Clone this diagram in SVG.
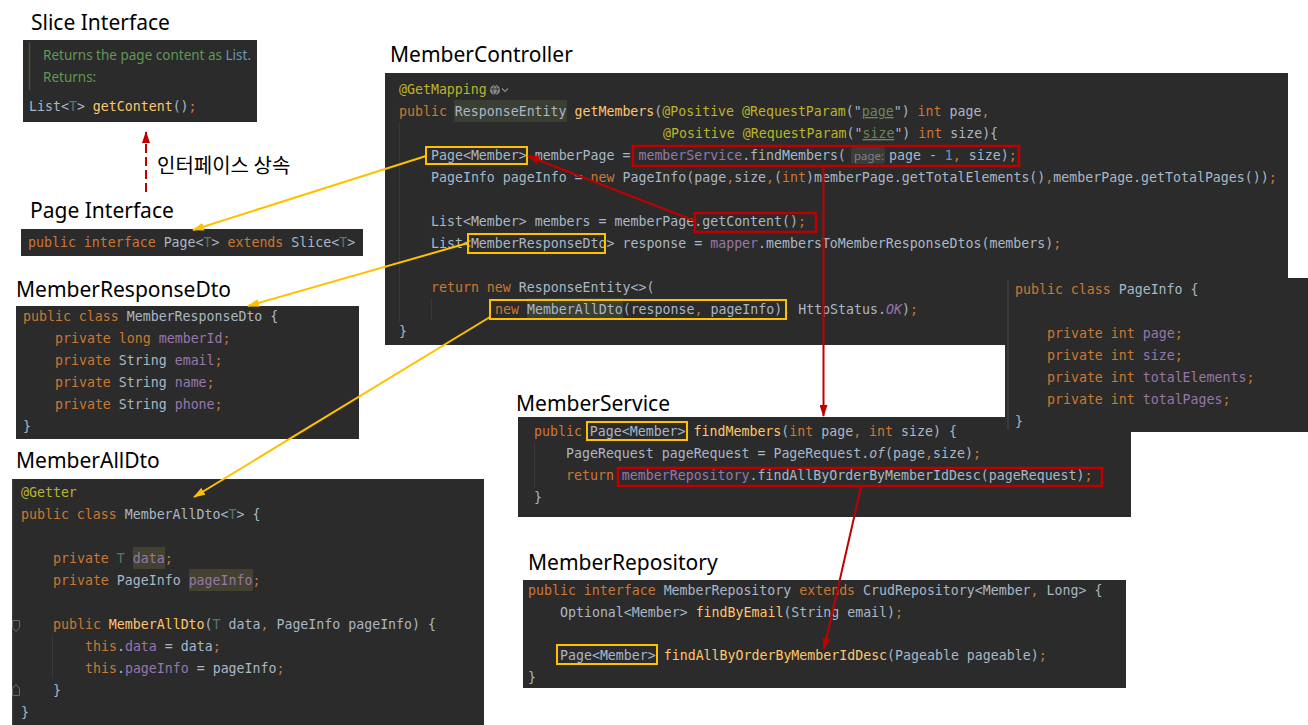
<svg xmlns="http://www.w3.org/2000/svg" width="1308" height="725" viewBox="0 0 1308 725" xml:space="preserve">
<style>
.title{font-family:"Noto Sans","Open Sans","Liberation Sans",sans-serif;font-size:21px;fill:#000}
.kr{font-family:"Noto Sans CJK KR","Noto Sans",sans-serif;font-size:20px;fill:#000}
.panel{fill:#2b2b2b}
.code{font-family:"DejaVu Sans Mono","Liberation Mono",monospace;font-size:13.25px;fill:#a9b7c6}
.doc{font-family:"Noto Sans","Open Sans",sans-serif;font-size:13.5px;fill:#629755}
.hint{font-family:"Noto Sans","Open Sans",sans-serif;font-size:11.5px;fill:#808080}
.k{fill:#cc7832}
.a{fill:#bbb529}
.m{fill:#ffc66d}
.f{fill:#9876aa}
.s{fill:#6a8759;text-decoration:underline}
.n{fill:#6897bb}
.t{fill:#507874}
.i{font-style:italic}
.hl{fill:#3b3e33}
.hl2{fill:#43412f}
.guide{stroke:#393939;stroke-width:1}
.ybox{fill:none;stroke:#ffc000;stroke-width:2}
.rbox{fill:none;stroke:#c00000;stroke-width:2.5}
.yline{stroke:#ffc000;stroke-width:2;fill:none}
.rline{stroke:#c00000;stroke-width:2;fill:none}
</style>
<defs>
<marker id="ahy" viewBox="0 0 12 8" refX="11" refY="4" markerWidth="12" markerHeight="8" orient="auto" markerUnits="userSpaceOnUse"><path d="M0,0 L12,4 L0,8 z" fill="#ffc000"/></marker>
<marker id="ahr" viewBox="0 0 12 8" refX="11" refY="4" markerWidth="12" markerHeight="8" orient="auto" markerUnits="userSpaceOnUse"><path d="M0,0 L12,4 L0,8 z" fill="#c00000"/></marker>
</defs>
<rect width="1308" height="725" fill="#ffffff"/>

<g id="slice-interface">
<text class="title" x="31" y="30">Slice Interface</text>
<rect class="panel" x="23" y="40" width="234" height="82"/>
<line x1="29.5" y1="42" x2="29.5" y2="90" stroke="#44513f" stroke-width="1.5"/>
<text class="doc" x="43" y="60">Returns the page content as <tspan fill="#6897bb">List.</tspan></text>
<text class="doc" x="43" y="82">Returns:</text>
<text class="code" x="29" y="111">List&lt;<tspan class="t">T</tspan>&gt; <tspan class="m">getContent</tspan>()<tspan class="k">;</tspan></text>
</g>

<g id="page-interface">
<text class="title" x="30" y="218">Page Interface</text>
<rect class="panel" x="21" y="229" width="342" height="27"/>
<text class="code" x="28" y="246.5"><tspan class="k">public interface </tspan>Page&lt;<tspan class="t">T</tspan>&gt; <tspan class="k">extends </tspan>Slice&lt;<tspan class="t">T</tspan>&gt;</text>
</g>

<g id="member-response-dto">
<text class="title" x="16" y="297">MemberResponseDto</text>
<rect class="panel" x="16" y="306" width="343" height="133"/>
<text class="code" x="23" y="321"><tspan class="k">public class </tspan>MemberResponseDto {</text>
<text class="code" x="55" y="343"><tspan class="k">private long </tspan><tspan class="f">memberId</tspan><tspan class="k">;</tspan></text>
<text class="code" x="55" y="365"><tspan class="k">private </tspan>String <tspan class="f">email</tspan><tspan class="k">;</tspan></text>
<text class="code" x="55" y="387"><tspan class="k">private </tspan>String <tspan class="f">name</tspan><tspan class="k">;</tspan></text>
<text class="code" x="55" y="409"><tspan class="k">private </tspan>String <tspan class="f">phone</tspan><tspan class="k">;</tspan></text>
<text class="code" x="23" y="431">}</text>
</g>

<g id="member-all-dto">
<text class="title" x="16" y="468">MemberAllDto</text>
<rect class="panel" x="12" y="479" width="472" height="246"/>
<line x1="12.5" y1="479" x2="12.5" y2="725" stroke="#3d3d3d" stroke-width="1"/>
<rect class="hl2" x="133" y="547" width="32" height="22"/>
<rect class="hl2" x="189" y="569" width="64" height="22"/>
<path d="M12.5,620.5 h7 v7 l-3.5,4 l-3.5,-4 z" fill="none" stroke="#6a6a6a" stroke-width="1"/>
<path d="M12.5,695.5 h7 v-7 l-3.5,-4 l-3.5,4 z" fill="none" stroke="#6a6a6a" stroke-width="1"/>
<line class="guide" x1="52.5" y1="635" x2="52.5" y2="678"/>
<text class="code" x="21" y="497"><tspan class="a">@Getter</tspan></text>
<text class="code" x="21" y="519"><tspan class="k">public class </tspan>MemberAllDto&lt;<tspan class="t">T</tspan>&gt; {</text>
<text class="code" x="53" y="563"><tspan class="k">private </tspan><tspan class="t">T </tspan><tspan class="f">data</tspan><tspan class="k">;</tspan></text>
<text class="code" x="53" y="585"><tspan class="k">private </tspan>PageInfo <tspan class="f">pageInfo</tspan><tspan class="k">;</tspan></text>
<text class="code" x="53" y="629"><tspan class="k">public </tspan><tspan class="m">MemberAllDto</tspan>(<tspan class="t">T </tspan>data<tspan class="k">, </tspan>PageInfo pageInfo) {</text>
<text class="code" x="85" y="651"><tspan class="k">this</tspan>.<tspan class="f">data</tspan> = data<tspan class="k">;</tspan></text>
<text class="code" x="85" y="673"><tspan class="k">this</tspan>.<tspan class="f">pageInfo</tspan> = pageInfo<tspan class="k">;</tspan></text>
<text class="code" x="53" y="695">}</text>
<text class="code" x="21" y="717">}</text>
</g>

<g id="member-controller">
<text class="title" x="390" y="62">MemberController</text>
<rect class="panel" x="385" y="73" width="903" height="272"/>
<line class="guide" x1="399.5" y1="122" x2="399.5" y2="322"/>
<line class="guide" x1="431.5" y1="298" x2="431.5" y2="320"/>
<rect class="hl" x="454" y="100" width="113" height="22"/>
<rect class="hl" x="527" y="298" width="96" height="21"/>
<text class="code" x="399" y="94"><tspan class="a">@GetMapping</tspan></text>
<circle cx="495" cy="90" r="5" fill="#8a8a8a"/>
<path d="M490.5,89 h9 M495,85 c-3,3 -3,7 0,10 M495,85 c3,3 3,7 0,10" fill="none" stroke="#2b2b2b" stroke-width="0.9"/>
<path d="M502,88.5 l3,3 l3,-3" fill="none" stroke="#8a8a8a" stroke-width="1.2"/>
<text class="code" x="399" y="116"><tspan class="k">public </tspan>ResponseEntity <tspan class="m">getMembers</tspan>(<tspan class="a">@Positive @RequestParam</tspan>("<tspan class="s">page</tspan>")<tspan class="k"> int </tspan>page<tspan class="k">,</tspan></text>
<text class="code" x="663" y="138"><tspan class="a">@Positive @RequestParam</tspan>("<tspan class="s">size</tspan>")<tspan class="k"> int </tspan>size){</text>
<text class="code" x="431" y="160">Page&lt;Member&gt; memberPage = <tspan class="f">memberService</tspan>.findMembers(</text>
<rect x="851" y="147" width="34" height="17" rx="3" fill="#3b3b3b"/>
<text class="hint" x="854" y="159.5">page:</text>
<text class="code" x="889" y="160">page - <tspan class="n">1</tspan><tspan class="k">, </tspan>size)<tspan class="k">;</tspan></text>
<text class="code" x="431" y="182">PageInfo pageInfo = <tspan class="k">new </tspan>PageInfo(page<tspan class="k">,</tspan>size<tspan class="k">,</tspan>(<tspan class="k">int</tspan>)memberPage.getTotalElements()<tspan class="k">,</tspan>memberPage.getTotalPages())<tspan class="k">;</tspan></text>
<text class="code" x="431" y="226">List&lt;Member&gt; members = memberPage.getContent()<tspan class="k">;</tspan></text>
<text class="code" x="431" y="248">List&lt;MemberResponseDto&gt; response = <tspan class="f">mapper</tspan>.membersToMemberResponseDtos(members)<tspan class="k">;</tspan></text>
<text class="code" x="431" y="292"><tspan class="k">return new </tspan>ResponseEntity&lt;&gt;(</text>
<text class="code" x="495" y="314"><tspan class="k">new </tspan>MemberAllDto(response<tspan class="k">, </tspan>pageInfo)<tspan class="k">, </tspan>HttpStatus.<tspan class="f i">OK</tspan>)<tspan class="k">;</tspan></text>
<text class="code" x="399" y="336">}</text>
<rect class="ybox" x="426" y="147" width="101" height="17"/>
<rect class="rbox" x="633" y="146" width="386" height="20"/>
<rect class="rbox" x="695" y="213" width="121" height="19"/>
<rect class="ybox" x="468" y="234" width="137" height="19"/>
<rect class="ybox" x="490" y="300" width="296" height="19"/>
</g>

<g id="member-service">
<text class="title" x="516" y="411">MemberService</text>
<rect class="panel" x="518" y="417" width="613" height="100"/>
<line class="guide" x1="534.5" y1="442" x2="534.5" y2="487"/>
<text class="code" x="534" y="436"><tspan class="k">public </tspan>Page&lt;Member&gt; <tspan class="m">findMembers</tspan>(<tspan class="k">int </tspan>page<tspan class="k">, int </tspan>size) {</text>
<text class="code" x="566" y="458">PageRequest pageRequest = PageRequest.<tspan class="i">of</tspan>(page<tspan class="k">,</tspan>size)<tspan class="k">;</tspan></text>
<text class="code" x="566" y="480"><tspan class="k">return </tspan><tspan class="f">memberRepository</tspan>.findAllByOrderByMemberIdDesc(pageRequest)<tspan class="k">;</tspan></text>
<text class="code" x="534" y="502">}</text>
<rect class="ybox" x="587" y="422" width="100" height="18"/>
<rect class="rbox" x="618" y="468" width="484" height="18"/>
</g>

<g id="page-info">
<rect class="panel" x="1005" y="278" width="303" height="154"/>
<line x1="1008" y1="280" x2="1008" y2="430" stroke="#404040" stroke-width="1.5"/>
<text class="code" x="1015" y="293.5"><tspan class="k">public class </tspan>PageInfo {</text>
<text class="code" x="1047" y="337.5"><tspan class="k">private int </tspan><tspan class="f">page</tspan><tspan class="k">;</tspan></text>
<text class="code" x="1047" y="359.5"><tspan class="k">private int </tspan><tspan class="f">size</tspan><tspan class="k">;</tspan></text>
<text class="code" x="1047" y="381.5"><tspan class="k">private int </tspan><tspan class="f">totalElements</tspan><tspan class="k">;</tspan></text>
<text class="code" x="1047" y="403.5"><tspan class="k">private int </tspan><tspan class="f">totalPages</tspan><tspan class="k">;</tspan></text>
<text class="code" x="1015" y="425.5">}</text>
</g>

<g id="member-repository">
<text class="title" x="528" y="570">MemberRepository</text>
<rect class="panel" x="523" y="580" width="603" height="108"/>
<text class="code" x="528" y="594.5"><tspan class="k">public interface </tspan>MemberRepository <tspan class="k">extends </tspan>CrudRepository&lt;Member<tspan class="k">, </tspan>Long&gt; {</text>
<text class="code" x="560" y="616.5">Optional&lt;Member&gt; <tspan class="m">findByEmail</tspan>(String email)<tspan class="k">;</tspan></text>
<text class="code" x="560" y="660">Page&lt;Member&gt; <tspan class="m">findAllByOrderByMemberIdDesc</tspan>(Pageable pageable)<tspan class="k">;</tspan></text>
<text class="code" x="528" y="682">}</text>
<rect class="ybox" x="557" y="645" width="100" height="19"/>
</g>

<g id="connectors">
<line class="rline" x1="146" y1="192" x2="146" y2="132" stroke-width="2.5" stroke-dasharray="9 4" marker-end="url(#ahr)"/>
<text class="kr" x="157" y="173">인터페이스 상속</text>
<line class="yline" x1="426" y1="156" x2="193" y2="230" marker-end="url(#ahy)"/>
<line class="yline" x1="468" y1="243" x2="248" y2="306" marker-end="url(#ahy)"/>
<line class="yline" x1="490" y1="317" x2="194" y2="497" marker-end="url(#ahy)"/>
<line class="rline" x1="695" y1="221" x2="528" y2="156" marker-end="url(#ahr)"/>
<line class="rline" x1="823.5" y1="166" x2="823.5" y2="416" marker-end="url(#ahr)"/>
<line class="rline" x1="861" y1="487" x2="824" y2="649" marker-end="url(#ahr)"/>
</g>
</svg>
